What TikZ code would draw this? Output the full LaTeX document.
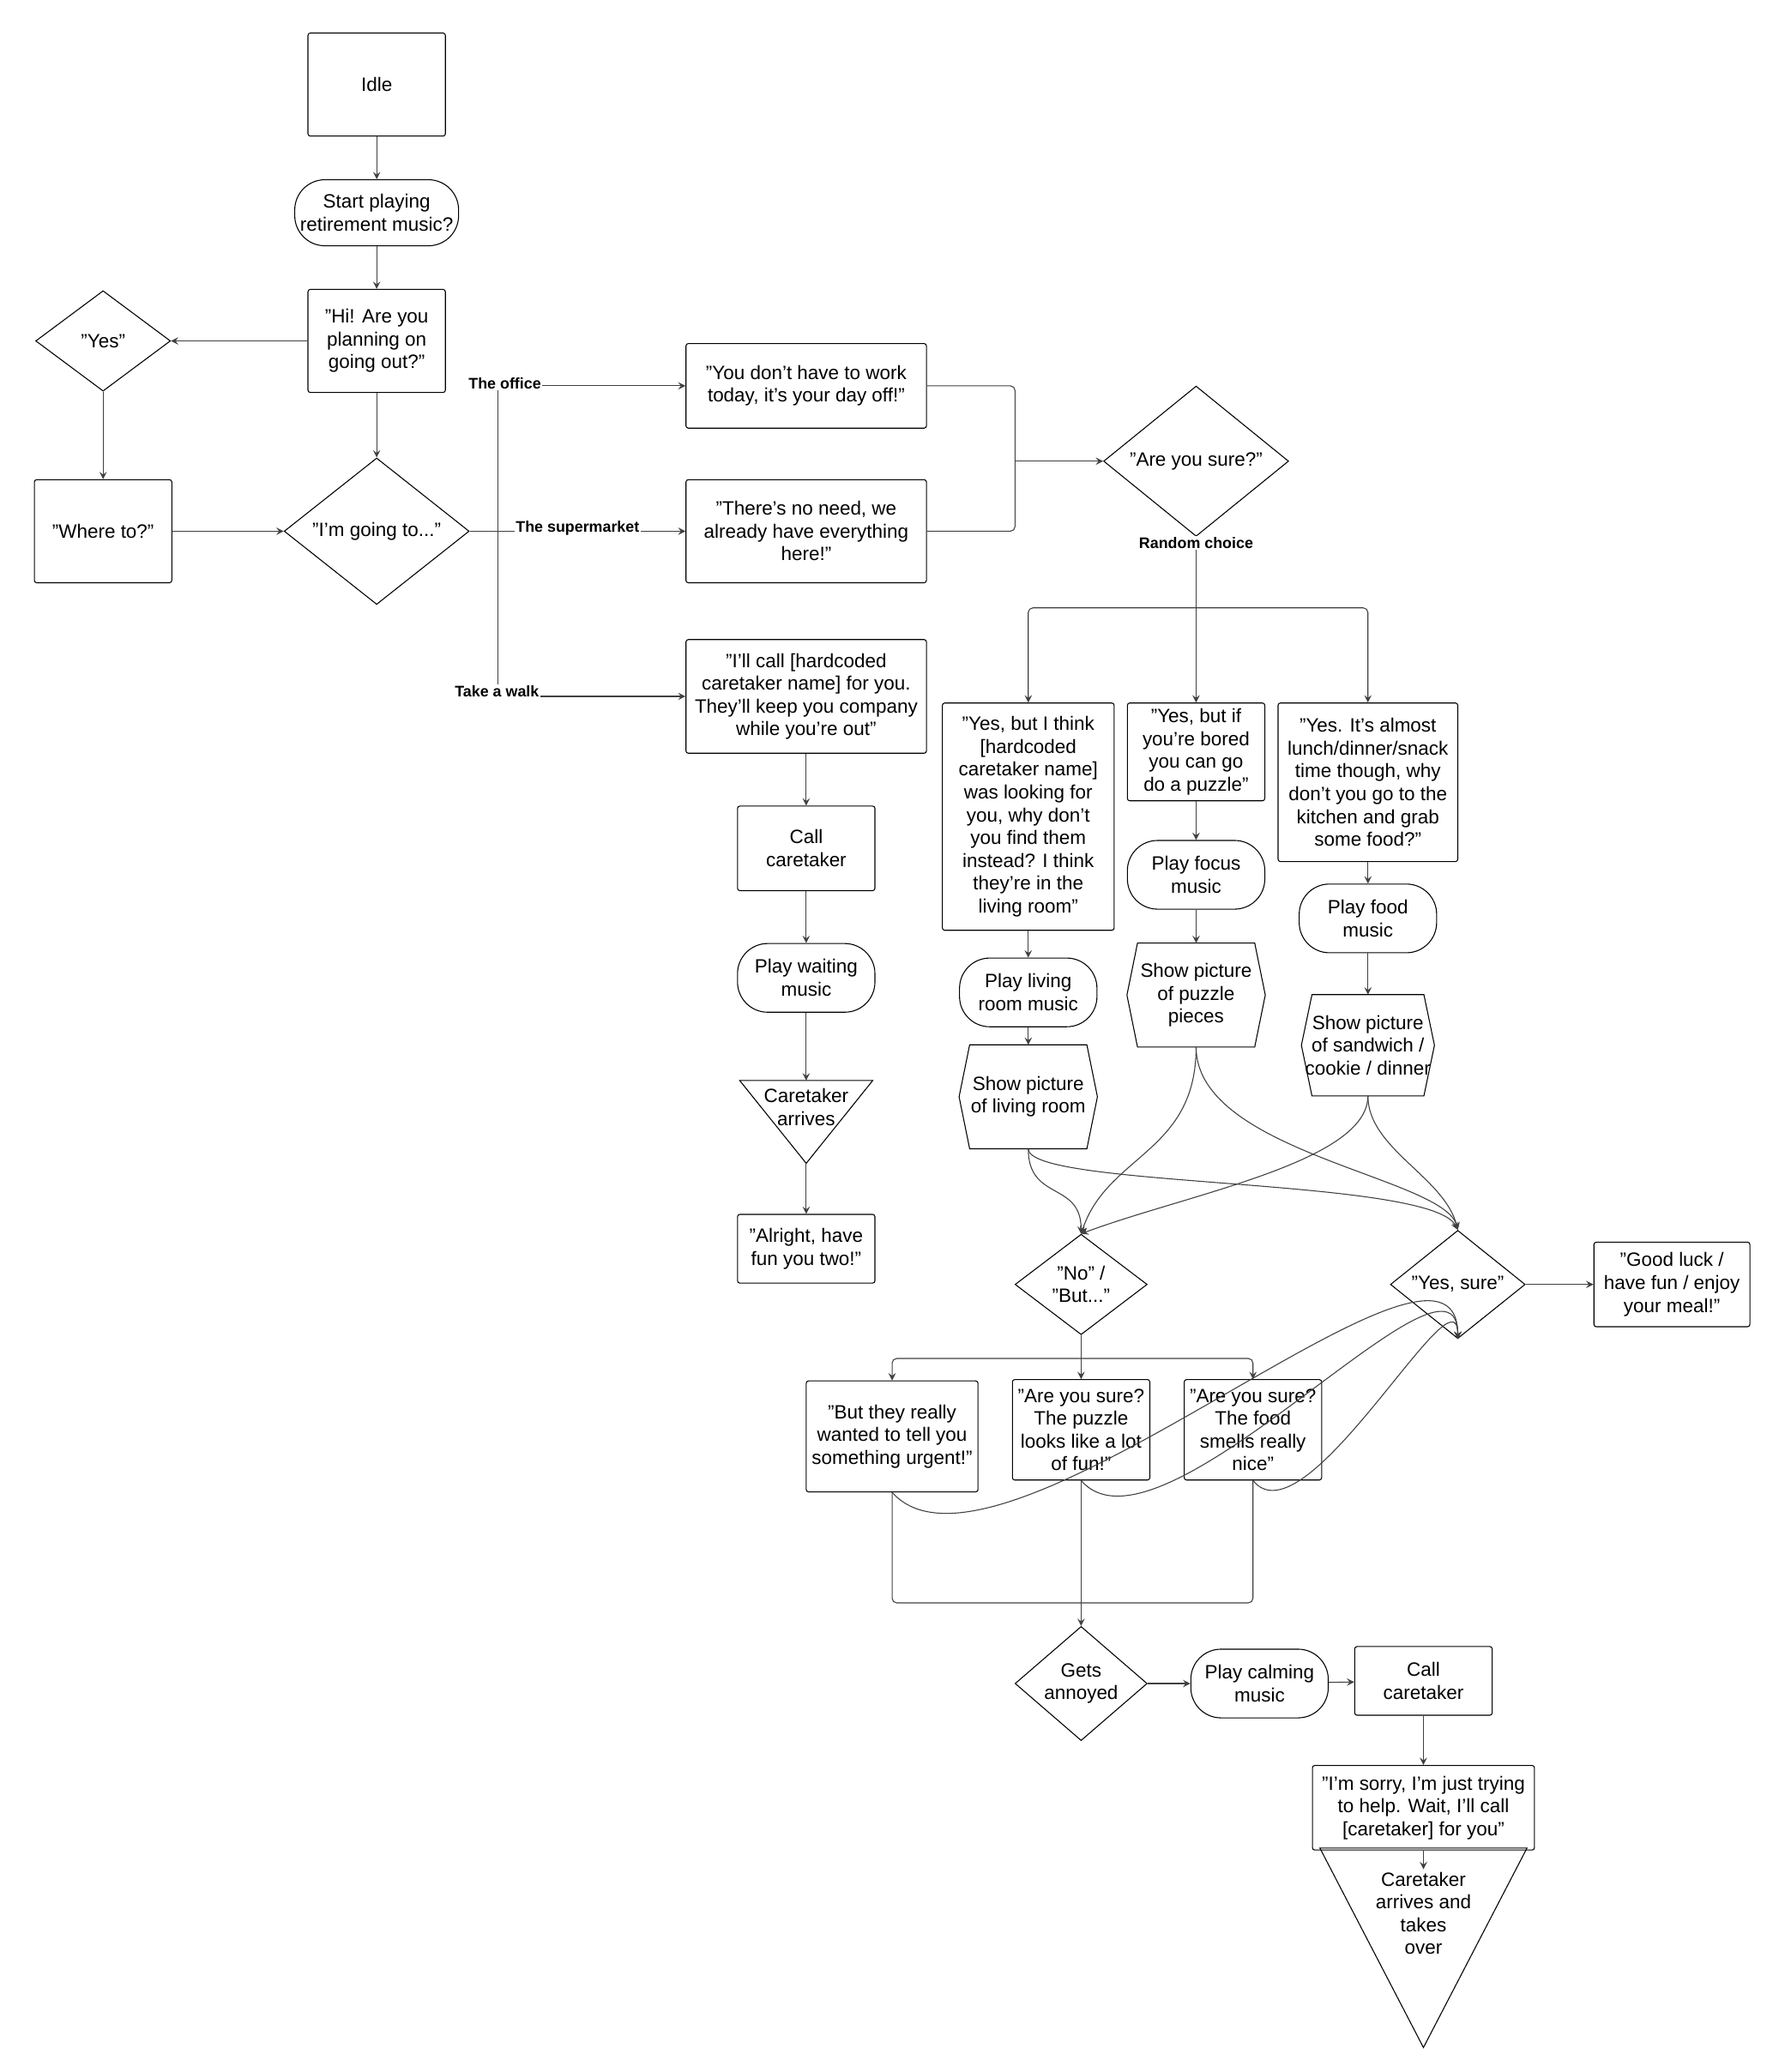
\documentclass[tikz,border=0pt]{standalone}
\usepackage{fontspec}
\setmainfont{Liberation Sans}
\usetikzlibrary{shapes,arrows,positioning,calc}

\tikzset{
    box/.style={draw, rectangle, rounded corners=1pt, align=center, inner sep=1pt},
    pill/.style={draw, rectangle, rounded corners=13pt, align=center, inner sep=1pt},
    choice/.style={draw, diamond, align=center, inner sep=0pt},
    plain/.style={align=center, inner sep=1pt},
    lbl/.style={font=\fontsize{6.6}{8}\selectfont\bfseries, fill=white, inner sep=0.5pt},
    link/.style={->, >=stealth, draw=black!75}
}
\newcommand{\hexa}[1]{\draw ($(#1.north west)+(8,0)$) -- ($(#1.north east)+(-8,0)$) -- (#1.east) -- ($(#1.south east)+(-8,0)$) -- ($(#1.south west)+(8,0)$) -- (#1.west) -- cycle;}
\newcommand{\trid}[1]{\draw (#1.north west) -- (#1.north east) -- (#1.south) -- cycle;}

\begin{document}
\begin{tikzpicture}[x=0.02cm, y=-0.02cm, font=\fontsize{8.3}{9.8}\selectfont]
\useasboundingbox (0,0) rectangle (1350,1568);
% left column
\node[box, minimum width=2.08cm, minimum height=1.56cm] (idle) at (285,64) {Idle};
\node[pill, minimum width=2.48cm, minimum height=1cm] (start) at (285,161) {Start playing\\retirement music?};
\node[box, minimum width=2.08cm, minimum height=1.56cm] (hi) at (285,258) {"Hi! Are you\\planning on\\going out?"};
\node[choice, minimum width=2.04cm, minimum height=1.52cm] (yes) at (78,258) {"Yes"};
\node[box, minimum width=2.08cm, minimum height=1.56cm] (where) at (78,402) {"Where to?"};
\node[choice, minimum width=2.8cm, minimum height=2.04cm] (going) at (285,402) {"I'm going to..."};
% answers
\node[box, minimum width=3.64cm, minimum height=1.28cm] (work) at (610,292) {"You don't have to work\\today, it's your day off!"};
\node[box, minimum width=3.64cm, minimum height=1.56cm] (need) at (610,402) {"There's no need, we\\already have everything\\here!"};
\node[box, minimum width=3.64cm, minimum height=1.72cm] (call1) at (610,527) {"I'll call [hardcoded\\caretaker name] for you.\\They'll keep you company\\while you're out"};
\node[choice, minimum width=2.8cm, minimum height=1.56cm] (sure) at (905,349) {"Are you sure?"};
% walk branch
\node[box, minimum width=2.08cm, minimum height=1.28cm] (callc) at (610,642) {Call\\caretaker};
\node[pill, minimum width=2.08cm, minimum height=1.04cm] (playwait) at (610,740) {Play waiting\\music};
\node[plain, minimum width=2cm, minimum height=1.24cm, text depth=0.45cm] (carearr) at (610,849) {Caretaker\\arrives};
\trid{carearr}
\node[box, minimum width=2.08cm, minimum height=1.04cm] (alright) at (610,945) {"Alright, have\\fun you two!"};
% random choice branches
\node[box, minimum width=2.6cm, minimum height=3.44cm] (living) at (778,618) {"Yes, but I think\\{}[hardcoded\\caretaker name]\\was looking for\\you, why don't\\you find them\\instead? I think\\they're in the\\living room"};
\node[box, minimum width=2.08cm, minimum height=1.48cm] (puzzle) at (905,569) {"Yes, but if\\you're bored\\you can go\\do a puzzle"};
\node[box, minimum width=2.72cm, minimum height=2.4cm] (food) at (1035,592) {"Yes. It's almost\\lunch/dinner/snack\\time though, why\\don't you go to the\\kitchen and grab\\some food?"};
\node[pill, minimum width=2.08cm, minimum height=1.04cm] (pliving) at (778,751) {Play living\\room music};
\node[pill, minimum width=2.08cm, minimum height=1.04cm] (pfocus) at (905,662) {Play focus\\music};
\node[pill, minimum width=2.08cm, minimum height=1.04cm] (pfood) at (1035,695) {Play food\\music};
\node[plain, minimum width=2.08cm, minimum height=1.56cm] (sliving) at (778,830) {Show picture\\of living room};
\hexa{sliving}
\node[plain, minimum width=2.08cm, minimum height=1.56cm] (spuzzle) at (905,753) {Show picture\\of puzzle\\pieces};
\hexa{spuzzle}
\node[plain, minimum width=2cm, minimum height=1.52cm] (sfood) at (1035,791) {Show picture\\of sandwich /\\cookie / dinner};
\hexa{sfood}
% reactions
\node[choice, minimum width=2cm, minimum height=1.52cm] (nobut) at (818,972) {"No" /\\"But..."};
\node[choice, minimum width=2.04cm, minimum height=1.52cm] (yessure) at (1103,972) {"Yes, sure"};
\node[box, minimum width=2.36cm, minimum height=1.28cm] (goodluck) at (1265,972) {"Good luck /\\have fun / enjoy\\your meal!"};
\node[box, minimum width=2.6cm, minimum height=1.68cm] (but1) at (675,1087) {"But they really\\wanted to tell you\\something urgent!"};
\node[box, minimum width=2.08cm, minimum height=1.52cm] (sure2) at (818,1082) {"Are you sure?\\The puzzle\\looks like a lot\\of fun!"};
\node[box, minimum width=2.08cm, minimum height=1.52cm] (sure3) at (948,1082) {"Are you sure?\\The food\\smells really\\nice"};
% annoyed branch
\node[choice, minimum width=2cm, minimum height=1.52cm] (annoyed) at (818,1274) {Gets\\annoyed};
\node[pill, minimum width=2.08cm, minimum height=1.04cm] (calming) at (953,1274) {Play calming\\music};
\node[box, minimum width=2.08cm, minimum height=1.04cm] (callc2) at (1077,1272) {Call\\caretaker};
\node[box, minimum width=3.36cm, minimum height=1.28cm] (sorry) at (1077,1368) {"I'm sorry, I'm just trying\\to help. Wait, I'll call\\{}[caretaker] for you"};
\node[plain, minimum width=3.12cm, minimum height=2.12cm, text depth=1.05cm] (takes) at (1077,1474) {Caretaker\\arrives and\\takes\\over};
\draw ($(takes.north west)+(0,-16)$) coordinate (tk1) -- ($(takes.north east)+(0,-16)$) -- ($(takes.south)+(0,16)$) -- cycle;

% connectors
\draw[link] (idle) -- (start);
\draw[link] (start) -- (hi);
\draw[link] (hi) -- (yes);
\draw[link] (yes) -- (where);
\draw[link] (where) -- (going);
\draw[link] (hi) -- (going);
\coordinate (trunk) at (377,402);
\draw[draw=black!75] (going.east) -- (trunk);
\draw[draw=black!75] (377,292) -- (377,527);
\draw[link] (377,292) -- (work.west);
\draw[link] (trunk) -- (need.west);
\draw[link] (377,527) -- (call1.west);
\node[lbl] at (382,290) {The office};
\node[lbl] at (437,400) {The supermarket};
\node[lbl] at (376,523) {Take a walk};
\draw[draw=black!75, rounded corners=2pt] (work.east) -| (768,349);
\draw[draw=black!75, rounded corners=2pt] (need.east) -| (768,349);
\draw[link] (768,349) -- (sure.west);
\coordinate (fork) at (905,460);
\draw[draw=black!75] (sure.south) -- (fork);
\node[lbl] at (905,411) {Random choice};
\draw[link, rounded corners=2pt] (fork) -| (living.north);
\draw[link] (fork) -- (puzzle.north);
\draw[link, rounded corners=2pt] (fork) -| (food.north);
\draw[link] (call1) -- (callc);
\draw[link] (callc) -- (playwait);
\draw[link] (playwait) -- (carearr.north);
\draw[link] (carearr.south) -- (alright);
\draw[link] (living) -- (pliving);
\draw[link] (pliving) -- (sliving);
\draw[link] (puzzle) -- (pfocus);
\draw[link] (pfocus) -- (spuzzle);
\draw[link] (food) -- (pfood);
\draw[link] (pfood) -- (sfood);
\draw[link] (sliving.south) .. controls +(0,40) and +(0,-40) .. (nobut.north);
\draw[link] (sliving.south) .. controls +(0,30) and +(-20,-40) .. (yessure.north);
\draw[link] (spuzzle.south) .. controls +(0,80) and +(20,-60) .. (nobut.north);
\draw[link] (spuzzle.south) .. controls +(0,80) and +(-10,-40) .. (yessure.north);
\draw[link] (sfood.south) .. controls +(0,50) and +(80,-30) .. (nobut.north);
\draw[link] (sfood.south) .. controls +(0,40) and +(-10,-40) .. (yessure.north);
\draw[link] (yessure) -- (goodluck);
\coordinate (fork2) at (818,1028);
\draw[draw=black!75] (nobut.south) -- (fork2);
\draw[link, rounded corners=2pt] (fork2) -| (but1.north);
\draw[link] (fork2) -- (sure2.north);
\draw[link, rounded corners=2pt] (fork2) -| (sure3.north);
\draw[draw=black!75, rounded corners=2pt] (but1.south) |- (948,1213) -- (sure3.south);
\draw[link] (sure2.south) -- (annoyed.north);
\draw[link] (but1.south) .. controls +(80,90) and +(0,-120) .. (yessure.south);
\draw[link] (sure2.south) .. controls +(60,70) and +(0,-90) .. (yessure.south);
\draw[link] (sure3.south) .. controls +(40,50) and +(0,-60) .. (yessure.south);
\draw[link] (annoyed) -- (calming);
\draw[link] (calming) -- (callc2);
\draw[link] (callc2) -- (sorry);
\draw[link] (sorry) -- (takes.north);
\end{tikzpicture}
\end{document}
